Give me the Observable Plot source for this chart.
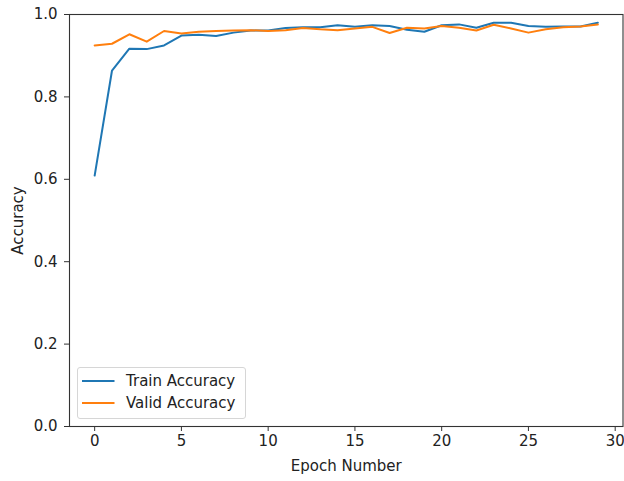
<!DOCTYPE html>
<html>
<head>
<meta charset="utf-8">
<script src="https://cdn.jsdelivr.net/npm/d3@7"></script>
<script src="https://cdn.jsdelivr.net/npm/@observablehq/plot@0.6"></script>
<style>
  html, body { margin: 0; padding: 0; background: #fff; }
  #wrap { position: relative; width: 624px; height: 481px; font-family: "DejaVu Sans", sans-serif; }
  #legend { position: absolute; left: 76.5px; top: 367px; width: 169px; height: 52px;
    border: 1px solid #d6d6d6; border-radius: 3px; background: rgba(255,255,255,0.8); box-sizing: border-box; }
  .row { position: absolute; left: 0; display: flex; align-items: center; font-size: 15px; color: #222; white-space: nowrap; }
  .row svg { margin-left: 4.5px; margin-right: 11.5px; }
</style>
</head>
<body>
<div id="wrap"></div>
<script>
const epochs = [0,1,2,3,4,5,6,7,8,9,10,11,12,13,14,15,16,17,18,19,20,21,22,23,24,25,26,27,28,29];
const trainAcc = [0.609,0.864,0.917,0.916,0.925,0.949,0.951,0.948,0.956,0.961,0.961,0.967,0.969,0.969,0.974,0.970,0.974,0.972,0.963,0.958,0.974,0.976,0.968,0.980,0.980,0.972,0.970,0.971,0.971,0.980];
const validAcc = [0.925,0.929,0.952,0.934,0.960,0.954,0.958,0.960,0.961,0.962,0.960,0.962,0.967,0.964,0.962,0.966,0.970,0.955,0.968,0.966,0.972,0.968,0.961,0.975,0.966,0.956,0.964,0.969,0.971,0.976];
const xTicks = [0,5,10,15,20,25,30];
const yTicks = [0.0,0.2,0.4,0.6,0.8,1.0];
const seriesNames = ["Train Accuracy","Valid Accuracy"];
const seriesColors = ["#1f77b4","#ff7f0e"];

const table = epochs.map((e,i) => ({epoch: e, train: trainAcc[i], valid: validAcc[i]}));

const chart = Plot.plot({
  width: 624,
  height: 481,
  marginLeft: 69,
  marginRight: 1.5,
  marginTop: 14,
  marginBottom: 55,
  style: {fontFamily: "DejaVu Sans, sans-serif", fontSize: "15px", color: "#222", background: "#fff"},
  x: {domain: [-1.45, 30.45]},
  y: {domain: [0, 1]},
  marks: [
    Plot.axisX({ticks: xTicks, tickSize: 5, tickPadding: 4, fontSize: 15, stroke: "#333",
      label: "Epoch Number", labelAnchor: "center", labelArrow: "none", labelOffset: 44}),
    Plot.axisY({ticks: yTicks, tickFormat: d3.format(".1f"), tickSize: 5, tickPadding: 7, fontSize: 15, stroke: "#333",
      label: "Accuracy", labelAnchor: "center", labelArrow: "none", labelOffset: 57}),
    Plot.lineY(table, {x: "epoch", y: "train", stroke: seriesColors[0], strokeWidth: 2}),
    Plot.lineY(table, {x: "epoch", y: "valid", stroke: seriesColors[1], strokeWidth: 2}),
    Plot.frame({stroke: "#333", strokeWidth: 1.1})
  ]
});
const wrap = document.getElementById("wrap");
wrap.appendChild(chart);

const legend = document.createElement("div");
legend.id = "legend";
seriesNames.forEach((name, i) => {
  const row = document.createElement("div");
  row.className = "row";
  row.style.top = (3.5 + i * 22.7) + "px";
  row.innerHTML = `<svg width="32.5" height="18"><line x1="0" x2="32.5" y1="9" y2="9" stroke="${seriesColors[i]}" stroke-width="2"/></svg><span>${name}</span>`;
  legend.appendChild(row);
});
wrap.appendChild(legend);
</script>
</body>
</html>
